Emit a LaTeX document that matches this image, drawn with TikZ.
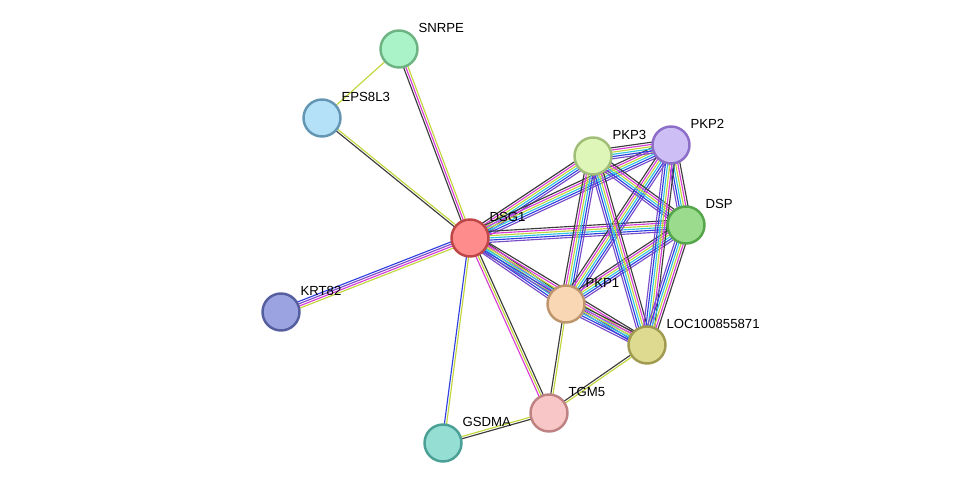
\documentclass[tikz,border=0pt]{standalone}
\usepackage{fontspec}
\setmainfont{Liberation Sans}
\usetikzlibrary{calc,backgrounds}

\definecolor{eyel}{HTML}{C2D63C}
\definecolor{emag}{HTML}{D83CD8}
\definecolor{eblk}{HTML}{3C3C3C}
\definecolor{eblu}{HTML}{3040E0}
\definecolor{ecya}{HTML}{30C4E0}
\definecolor{evio}{HTML}{7A4CC8}

% parallel coloured lines between two nodes: from, to, count, colours
\newcommand{\edge}[4]{%
  \foreach \c [count=\i] in {#4}{%
    \pgfmathsetmacro\off{(\i-(#3+1)/2)*1.25}
    \draw[\c,line width=0.65pt] ($(#1)!\off pt!90:(#2)$) -- ($(#2)!\off pt!-90:(#1)$);
  }}

\begin{document}
\begin{tikzpicture}[x=0.02cm,y=-0.02cm]

\tikzstyle{prot}=[circle, line width=1.4pt, minimum size=0.74cm, inner sep=0pt]
\tikzstyle{lbl}=[font=\fontsize{7.5}{8}\selectfont, inner sep=1pt, anchor=south west, xshift=2pt]

\useasboundingbox (0,0) rectangle (975,489);

\node (dsg1)  [prot, fill={rgb,255:red,255;green,140;blue,140}, draw={rgb,255:red,190;green,70;blue,70},  label={[lbl]45:DSG1}]  at (470,238) {};
\node (snrpe) [prot, fill={rgb,255:red,170;green,242;blue,200}, draw={rgb,255:red,110;green,180;blue,130}, label={[lbl]45:SNRPE}] at (399,49)  {};
\node (eps)   [prot, fill={rgb,255:red,180;green,225;blue,248}, draw={rgb,255:red,100;green,150;blue,180}, label={[lbl]45:EPS8L3}] at (322,118) {};
\node (krt)   [prot, fill={rgb,255:red,155;green,163;blue,224}, draw={rgb,255:red,85;green,95;blue,160},  label={[lbl]45:KRT82}] at (281,312) {};
\node (gsdma) [prot, fill={rgb,255:red,148;green,222;blue,212}, draw={rgb,255:red,75;green,160;blue,150}, label={[lbl]45:GSDMA}] at (443,443) {};
\node (tgm5)  [prot, fill={rgb,255:red,248;green,198;blue,198}, draw={rgb,255:red,190;green,130;blue,130}, label={[lbl]45:TGM5}]  at (549,413) {};
\node (pkp1)  [prot, fill={rgb,255:red,250;green,215;blue,180}, draw={rgb,255:red,190;green,150;blue,110}, label={[lbl]45:PKP1}]  at (566,304) {};
\node (loc)   [prot, fill={rgb,255:red,222;green,219;blue,145}, draw={rgb,255:red,160;green,155;blue,80},  label={[lbl]45:LOC100855871}] at (647,345) {};
\node (dsp)   [prot, fill={rgb,255:red,155;green,219;blue,142}, draw={rgb,255:red,85;green,165;blue,75},   label={[lbl]45:DSP}]   at (686,225) {};
\node (pkp2)  [prot, fill={rgb,255:red,205;green,190;blue,245}, draw={rgb,255:red,140;green,110;blue,200}, label={[lbl]45:PKP2}]  at (671,145) {};
\node (pkp3)  [prot, fill={rgb,255:red,222;green,247;blue,185}, draw={rgb,255:red,160;green,190;blue,120}, label={[lbl]45:PKP3}]  at (593,156) {};

\begin{pgfonlayer}{background}
\edge{dsg1}{snrpe}{3}{eyel,emag,eblk}
\edge{dsg1}{eps}{2}{eyel,eblk}
\edge{snrpe}{eps}{1}{eyel}
\edge{dsg1}{krt}{4}{eblu,evio,emag,eyel}
\edge{dsg1}{gsdma}{2}{eblu,eyel}
\edge{dsg1}{tgm5}{3}{emag,eyel,eblk}
\edge{tgm5}{gsdma}{2}{eyel,eblk}
\edge{tgm5}{pkp1}{2}{eyel,eblk}
\edge{tgm5}{loc}{2}{eyel,eblk}
\foreach \a/\b in {dsg1/pkp1,dsg1/loc,dsg1/pkp3,dsg1/pkp2,dsg1/dsp,
                   pkp1/pkp3,pkp1/pkp2,pkp1/dsp,pkp1/loc,pkp3/pkp2,
                   pkp3/dsp,pkp3/loc,pkp2/dsp,pkp2/loc,dsp/loc}
  \edge{\a}{\b}{6}{evio,eblu,ecya,eyel,emag,eblk};
\end{pgfonlayer}
\end{tikzpicture}
\end{document}
